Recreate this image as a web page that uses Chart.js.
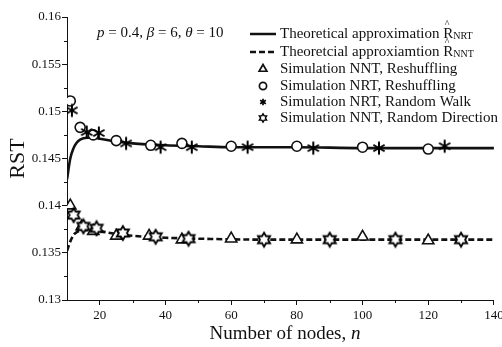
<!DOCTYPE html>
<html><head><meta charset="utf-8">
<script src="https://cdn.jsdelivr.net/npm/chart.js@4"></script>
<style>html,body{margin:0;padding:0;background:#fff;}</style>
</head><body>
<canvas id="c" width="502" height="347"></canvas>
<script>
// ---- data ----
const xTicks = [20, 40, 60, 80, 100, 120, 140];
const xMinorTicks = [30, 50, 70, 90, 110, 130];
const yTicks = [0.13, 0.135, 0.14, 0.145, 0.15, 0.155, 0.16];
const yTickLabels = ['0.13', '0.135', '0.14', '0.145', '0.15', '0.155', '0.16'];
const yMinorTicks = [0.1325, 0.1375, 0.1425, 0.1475, 0.1525, 0.1575];

// Theoretical approximation R_NRT (solid)
const nrtTheoryN = [10, 11, 12, 13, 14, 16, 18, 20, 25, 30, 40, 50, 60, 80, 100, 120, 140];
const nrtTheoryV = [0.1428, 0.1450, 0.1461, 0.1467, 0.1470, 0.1472, 0.1472, 0.1471, 0.1468, 0.1466, 0.1464, 0.1463, 0.1462, 0.1462, 0.1461, 0.1461, 0.1461];
// Theoretical approximation R_NNT (dashed)
const nntTheoryN = [10, 11, 12, 13, 15, 18, 20, 25, 30, 40, 50, 70, 100, 140];
const nntTheoryV = [0.1352, 0.1362, 0.1369, 0.1372, 0.1374, 0.1374, 0.1373, 0.1370, 0.1368, 0.1366, 0.1365, 0.1364, 0.1364, 0.1364];
// Simulation NNT, Reshuffling (triangles)
const nntReshN = [11, 14.5, 18, 25, 35, 45, 60, 80, 100, 120];
const nntReshV = [0.1400, 0.1378, 0.1373, 0.1368, 0.1368, 0.1364, 0.1365, 0.1364, 0.1367, 0.1363];
// Simulation NRT, Reshuffling (circles)
const nrtReshN = [11, 14, 18, 25, 35.5, 45, 60, 80, 100, 120];
const nrtReshV = [0.1511, 0.1483, 0.1475, 0.1469, 0.1464, 0.1466, 0.1463, 0.1463, 0.1462, 0.1460];
// Simulation NRT, Random Walk (asterisks)
const nrtRwN = [11.5, 16, 19.7, 28, 38.5, 48, 65, 85, 105, 125];
const nrtRwV = [0.1501, 0.1478, 0.1477, 0.1466, 0.1462, 0.1462, 0.1462, 0.1461, 0.1461, 0.1463];
// Simulation NNT, Random Direction (six-point stars)
const nntRdN = [12, 15, 19, 27, 37, 47, 70, 90, 110, 130];
const nntRdV = [0.1390, 0.1378, 0.1376, 0.1371, 0.1367, 0.1365, 0.1364, 0.1364, 0.1364, 0.1364];

const legendLabels = [
  ['Theoretical approximation ', 'NRT'],
  ['Theoretcial approxiamtion ', 'NNT'],
  ['Simulation NNT, Reshuffling'],
  ['Simulation NRT, Reshuffling'],
  ['Simulation NRT, Random Walk'],
  ['Simulation NNT, Random Direction']
];

// ---- styling helpers ----
const SERIF = "'Liberation Serif', 'Times New Roman', serif";
const INK = '#111';
const pts = (xs, ys) => xs.map((x, i) => ({x: x, y: ys[i]}));

function makeHexagram(R, lw, s) {
  const c = document.createElement('canvas'); c.width = c.height = s;
  const g = c.getContext('2d'); const cx = s / 2;
  g.beginPath();
  for (let i = 0; i < 12; i++) {
    const a = -Math.PI / 2 + i * Math.PI / 6;
    const r = i % 2 === 0 ? R : R / Math.sqrt(3);
    const px = cx + r * Math.cos(a), py = cx + r * Math.sin(a);
    if (i === 0) g.moveTo(px, py); else g.lineTo(px, py);
  }
  g.closePath(); g.fillStyle = '#fff'; g.fill();
  g.lineWidth = lw; g.strokeStyle = '#000'; g.lineJoin = 'miter'; g.stroke();
  return c;
}
function makeAsterisk(R, lw, s) {
  const c = document.createElement('canvas'); c.width = c.height = s;
  const g = c.getContext('2d'); const cx = s / 2;
  g.strokeStyle = '#000'; g.lineWidth = lw;
  [90, 30, 150].forEach(d => {
    const a = d * Math.PI / 180;
    g.beginPath();
    g.moveTo(cx - R * Math.cos(a), cx - R * Math.sin(a));
    g.lineTo(cx + R * Math.cos(a), cx + R * Math.sin(a));
    g.stroke();
  });
  return c;
}
const hexImg = makeHexagram(7, 1.8, 18);
const astImg = makeAsterisk(6.5, 2, 18);
const hexSmall = makeHexagram(4.2, 1.4, 12);
const astSmall = makeAsterisk(3.3, 1.7, 10);

const minorTicks = {
  id: 'minorTicks',
  afterDatasetsDraw(chart) {
    const ctx = chart.ctx, xs = chart.scales.x, ys = chart.scales.y, a = chart.chartArea;
    ctx.save(); ctx.strokeStyle = INK; ctx.lineWidth = 1;
    xMinorTicks.forEach(v => {
      const px = Math.round(xs.getPixelForValue(v)) + 0.5;
      ctx.beginPath(); ctx.moveTo(px, a.bottom); ctx.lineTo(px, a.bottom + 3); ctx.stroke();
    });
    yMinorTicks.forEach(v => {
      const py = Math.round(ys.getPixelForValue(v)) + 0.5;
      ctx.beginPath(); ctx.moveTo(a.left - 3, py); ctx.lineTo(a.left, py); ctx.stroke();
    });
    ctx.restore();
  }
};

const annotations = {
  id: 'annotations',
  afterDraw(chart) {
    const ctx = chart.ctx;
    ctx.save();
    ctx.fillStyle = INK; ctx.textBaseline = 'middle';
    // parameter note
    const segs = [['p', true], [' = 0.4, ', false], ['\u03b2', true], [' = 6, ', false], ['\u03b8', true], [' = 10', false]];
    let x = 97; const y = 33;
    segs.forEach(([t, it]) => {
      ctx.font = (it ? 'italic ' : '') + '15px ' + SERIF;
      ctx.fillText(t, x, y); x += ctx.measureText(t).width;
    });
    // x-axis title (with italic n)
    const tParts = [['Number of nodes, ', false], ['n', true]];
    ctx.font = '19px ' + SERIF;
    let tw = ctx.measureText(tParts[0][0]).width;
    ctx.font = 'italic 19px ' + SERIF;
    tw += ctx.measureText('n').width;
    let tx0 = 285 - tw / 2;
    tParts.forEach(([t, it]) => {
      ctx.font = (it ? 'italic ' : '') + '19px ' + SERIF;
      ctx.fillText(t, tx0, 334); tx0 += ctx.measureText(t).width;
    });
    // legend
    const ds = chart.data.datasets;
    const rowY = [34, 52, 69, 86, 102, 118];
    const lx0 = 250, lx1 = 276, mx = 263, tx = 280;
    legendLabels.forEach((lab, i) => {
      const yy = rowY[i];
      const d = ds[i];
      ctx.strokeStyle = INK; ctx.fillStyle = INK;
      if (i < 2) {
        ctx.save(); ctx.lineWidth = 2.5; ctx.setLineDash(d.borderDash || []);
        ctx.beginPath(); ctx.moveTo(lx0, yy); ctx.lineTo(lx1, yy); ctx.stroke(); ctx.restore();
      } else if (d.pointStyle === 'triangle' || d.pointStyle === 'circle') {
        ctx.save(); ctx.lineWidth = 1.7; ctx.fillStyle = '#fff';
        Chart.helpers.drawPoint(ctx, {pointStyle: d.pointStyle, radius: d.pointStyle === 'triangle' ? 4.5 : 3.6, rotation: 0, borderWidth: 1.7}, mx, yy);
        ctx.restore();
      } else {
        const img = d.pointStyle === hexImg ? hexSmall : astSmall;
        ctx.drawImage(img, Math.round(mx - img.width / 2), Math.round(yy - img.height / 2));
      }
      ctx.fillStyle = INK;
      ctx.font = '15px ' + SERIF;
      ctx.fillText(lab[0], tx, yy);
      if (lab[1]) {
        const rx = tx + ctx.measureText(lab[0]).width;
        ctx.fillText('R', rx, yy);
        const rw = ctx.measureText('R').width;
        ctx.font = '10px ' + SERIF;
        ctx.fillText('^', rx + 1.5, yy - 10);
        ctx.font = '10px ' + SERIF;
        ctx.fillText(lab[1], rx + rw, yy + 2.5);
      }
    });
    ctx.restore();
  }
};

new Chart(document.getElementById('c'), {
  type: 'scatter',
  data: {
    datasets: [
      {label: 'Theoretical approximation R_NRT', data: pts(nrtTheoryN, nrtTheoryV), showLine: true, pointRadius: 0,
       borderColor: INK, borderWidth: 2.6, cubicInterpolationMode: 'monotone', order: 10},
      {label: 'Theoretcial approxiamtion R_NNT', data: pts(nntTheoryN, nntTheoryV), showLine: true, pointRadius: 0,
       borderColor: INK, borderWidth: 2.6, borderDash: [6, 3], cubicInterpolationMode: 'monotone', order: 10},
      {label: 'Simulation NNT, Reshuffling', data: pts(nntReshN, nntReshV), pointStyle: 'triangle', pointRadius: 6.5,
       pointBorderWidth: 1.6, borderColor: INK, backgroundColor: '#fff', order: 4},
      {label: 'Simulation NRT, Reshuffling', data: pts(nrtReshN, nrtReshV), pointStyle: 'circle', pointRadius: 5,
       pointBorderWidth: 1.6, borderColor: INK, backgroundColor: '#fff', order: 3},
      {label: 'Simulation NRT, Random Walk', data: pts(nrtRwN, nrtRwV), pointStyle: astImg, pointRadius: 6,
       borderColor: INK, backgroundColor: INK, order: 2},
      {label: 'Simulation NNT, Random Direction', data: pts(nntRdN, nntRdV), pointStyle: hexImg, pointRadius: 6,
       borderColor: INK, backgroundColor: '#fff', order: 1}
    ]
  },
  options: {
    responsive: false, animation: false, devicePixelRatio: 1,
    layout: {padding: {top: 17, right: 7, left: 0, bottom: 0}},
    plugins: {legend: {display: false}, tooltip: {enabled: false}},
    elements: {line: {tension: 0}},
    scales: {
      x: {
        type: 'linear', min: 10, max: 140,
        afterBuildTicks: s => { s.ticks = xTicks.map(v => ({value: v})); },
        afterFit: s => { s.height = 47; s.paddingLeft = 0; s.paddingRight = 0; },
        grid: {drawOnChartArea: false, drawTicks: true, tickLength: 5, tickColor: INK},
        border: {color: INK, width: 1},
        ticks: {color: INK, font: {family: SERIF, size: 13}, padding: 3, maxRotation: 0, autoSkip: false},
        title: {display: false}
      },
      y: {
        type: 'linear', min: 0.13, max: 0.16,
        afterBuildTicks: s => { s.ticks = yTicks.map(v => ({value: v})); },
        afterFit: s => { s.width = 67; s.paddingTop = 0; s.paddingBottom = 0; },
        grid: {drawOnChartArea: false, drawTicks: true, tickLength: 5, tickColor: INK},
        border: {color: INK, width: 1},
        ticks: {color: INK, font: {family: SERIF, size: 13}, padding: 1, autoSkip: false,
                callback: (v, i) => yTickLabels[yTicks.findIndex(t => Math.abs(t - v) < 1e-9)]},
        title: {display: true, text: 'RST', color: INK, font: {family: SERIF, size: 22}, padding: {top: 5, bottom: 0}}
      }
    }
  },
  plugins: [minorTicks, annotations]
});
</script>
</body></html>
